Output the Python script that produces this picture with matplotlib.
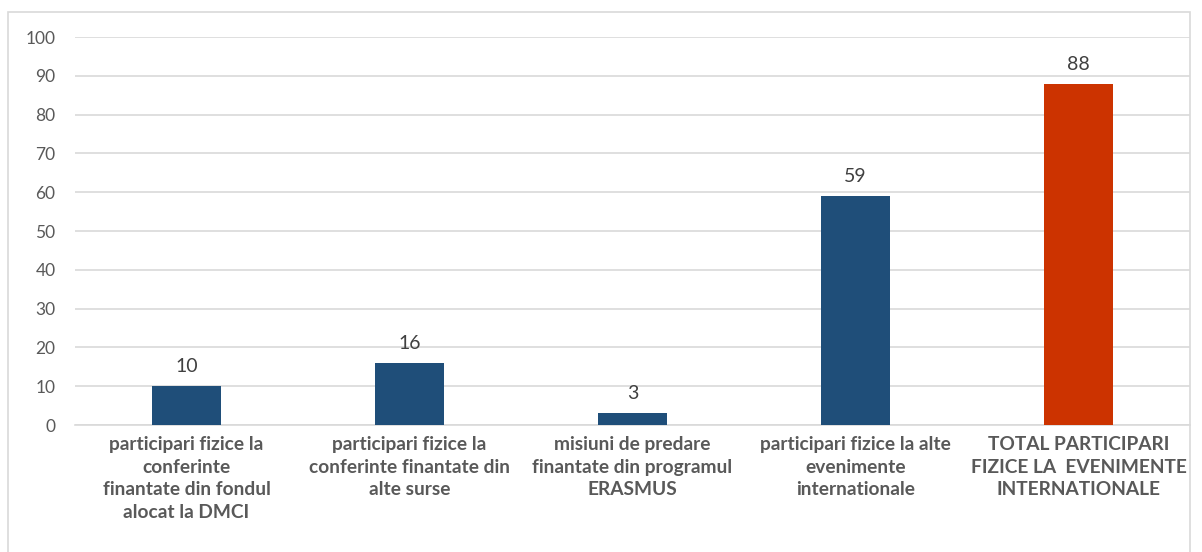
import matplotlib.pyplot as plt
from matplotlib.patches import Rectangle

categories = [
    "participari fizice la\nconferinte\nfinantate din fondul\nalocat la DMCI",
    "participari fizice la\nconferinte finantate din\nalte surse",
    "misiuni de predare\nfinantate din programul\nERASMUS",
    "participari fizice la alte\nevenimente\ninternationale",
    "TOTAL PARTICIPARI\nFIZICE LA  EVENIMENTE\nINTERNATIONALE",
]
values = [10, 16, 3, 59, 88]
colors = ["#1F4E79", "#1F4E79", "#1F4E79", "#1F4E79", "#CC3300"]
yticks = [0, 10, 20, 30, 40, 50, 60, 70, 80, 90, 100]

plt.rcParams['font.family'] = ['Lato', 'DejaVu Sans']

fig = plt.figure(figsize=(12.02, 5.52), dpi=100)
# chart frame
fig.patches.append(Rectangle((8 / 1202, -0.05), 1182 / 1202, 1 - 12 / 552 + 0.05,
                             transform=fig.transFigure, fill=False,
                             edgecolor="#D9D9D9", linewidth=1.2))

ax = fig.add_axes([75 / 1202, 1 - 425 / 552, 1115 / 1202, 388 / 552])
x = range(len(values))
ax.bar(x, values, width=0.31, color=colors, zorder=3)
for xi, v in zip(x, values):
    ax.text(xi, v + 2.8, str(v), ha="center", va="bottom", fontsize=14, color="#404040")

ax.set_xlim(-0.5, len(values) - 0.5)
ax.set_ylim(0, 100)
ax.set_yticks(yticks)
ax.set_xticks(list(x))
ax.set_xticklabels(categories, fontsize=13.8, fontweight="bold", color="#595959", linespacing=1.4)
ax.tick_params(axis="y", length=0, labelsize=12.5, labelcolor="#595959", pad=14)
ax.tick_params(axis="x", length=0, pad=8)
ax.grid(axis="y", color="#D9D9D9", linewidth=1.2, zorder=0)
for s in ["top", "right", "left"]:
    ax.spines[s].set_visible(False)
ax.spines["bottom"].set_color("#D9D9D9")
ax.spines["bottom"].set_linewidth(1.2)

fig.savefig("out.png", dpi=100)
